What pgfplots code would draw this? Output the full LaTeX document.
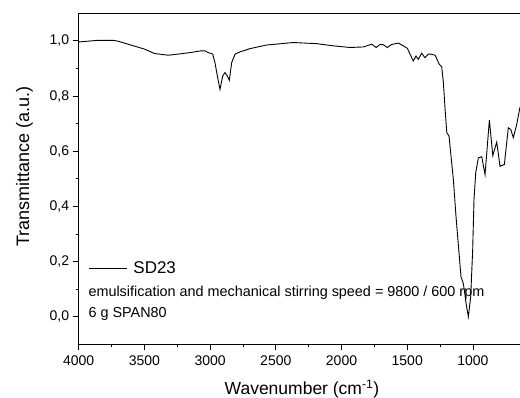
\documentclass[border=0pt]{standalone}
\usepackage{pgfplots}
\pgfplotsset{compat=1.18}
\usepackage{fontspec}
\setmainfont{Liberation Sans}
\begin{document}
\begin{tikzpicture}
\begin{axis}[
  width=441.3pt, height=331pt, scale only axis,
  x dir=reverse, xmin=642, xmax=4000, ymin=-0.1, ymax=1.1,
  axis x line*=box, axis y line*=left,
  xtick={1000,1500,2000,2500,3000,3500,4000},
  minor x tick num=1,
  ytick={0,0.2,0.4,0.6,0.8,1.0}, minor y tick num=1,
  xtick pos=bottom, ytick pos=left,
  tick align=outside,
  major tick length=6pt, minor tick length=3pt,
  every tick/.style={black, line width=0.8pt},
  axis line style={line width=0.8pt},
  tick label style={font=\fontsize{14}{16}\selectfont},
  x tick label style={yshift=-1.5pt, /pgf/number format/.cd, set thousands separator={}, assume math mode=true},
  y tick label style={/pgf/number format/.cd, fixed, fixed zerofill, precision=1, use comma, assume math mode=true},
  scaled ticks=false,
  xlabel={Wavenumber (cm\textsuperscript{-1})},
  ylabel={Transmittance (a.u.)},
  every axis x label/.style={at={(axis description cs:0.506,-0.152)}, anchor=base, font=\fontsize{17.5}{20}\selectfont},
  every axis y label/.style={at={(axis description cs:-0.1126,0.537)}, anchor=base, rotate=90, font=\fontsize{18}{20}\selectfont},
  legend style={at={(axis description cs:0.0218,0.229)}, anchor=west, draw=none, fill=none,
    inner sep=0pt, font=\fontsize{17}{19}\selectfont, nodes={inner sep=0pt}},
  legend image code/.code={\draw[#1] (0pt,0pt) -- (37.7pt,0pt); \path (44pt,0pt);},
]
\addplot[black, line width=0.9pt] coordinates {
(4000,0.996) (3853,1.002) (3739,1.002) (3701,0.999) (3625,0.988) (3498,0.970)
(3422,0.954) (3320,0.948) (3244,0.952) (3145,0.958) (3069,0.964) (3039,0.964)
(3016,0.958) (2980,0.952) (2963,0.921) (2945,0.873) (2925,0.824) (2904,0.873)
(2887,0.885) (2869,0.873) (2854,0.857) (2836,0.921) (2810,0.952) (2772,0.960)
(2696,0.972) (2569,0.985) (2367,0.994) (2189,0.990) (2062,0.982) (1935,0.976)
(1834,0.978) (1770,0.988) (1737,0.976) (1707,0.987) (1682,0.986) (1652,0.976)
(1618,0.987) (1568,0.992) (1530,0.982) (1499,0.973) (1479,0.952) (1454,0.927)
(1433,0.945) (1416,0.933) (1390,0.955) (1365,0.939) (1340,0.952) (1319,0.952)
(1288,0.948) (1256,0.915) (1238,0.907) (1225,0.849) (1212,0.752) (1199,0.667)
(1182,0.655) (1149,0.497) (1129,0.364) (1091,0.145) (1076,0.125) (1068,0.105)
(1053,0.05) (1035,0.0) (1017,0.073) (1002,0.243) (992,0.424) (979,0.521)
(959,0.576) (933,0.58) (908,0.515) (875,0.713) (849,0.584) (819,0.633)
(794,0.545) (761,0.552) (731,0.685) (712,0.679) (693,0.649) (667,0.697) (642,0.76)
};
\addlegendentry{SD23}
\coordinate (bl) at (rel axis cs:0,0);
\coordinate (tr) at (rel axis cs:1,1);
\node[anchor=base west, inner sep=0pt, font=\fontsize{14.4}{16}\selectfont]
  at (axis description cs:0.0218,0.1459) {emulsification and mechanical stirring speed = 9800 / 600 rpm};
\node[anchor=base west, inner sep=0pt, font=\fontsize{14.4}{16}\selectfont]
  at (axis description cs:0.0218,0.0795) {6 g SPAN80};
\end{axis}
\pgfresetboundingbox
\path[use as bounding box] ([xshift=-78.7pt,yshift=-53.7pt]bl) rectangle ([yshift=13.3pt]tr);
\end{tikzpicture}
\end{document}
